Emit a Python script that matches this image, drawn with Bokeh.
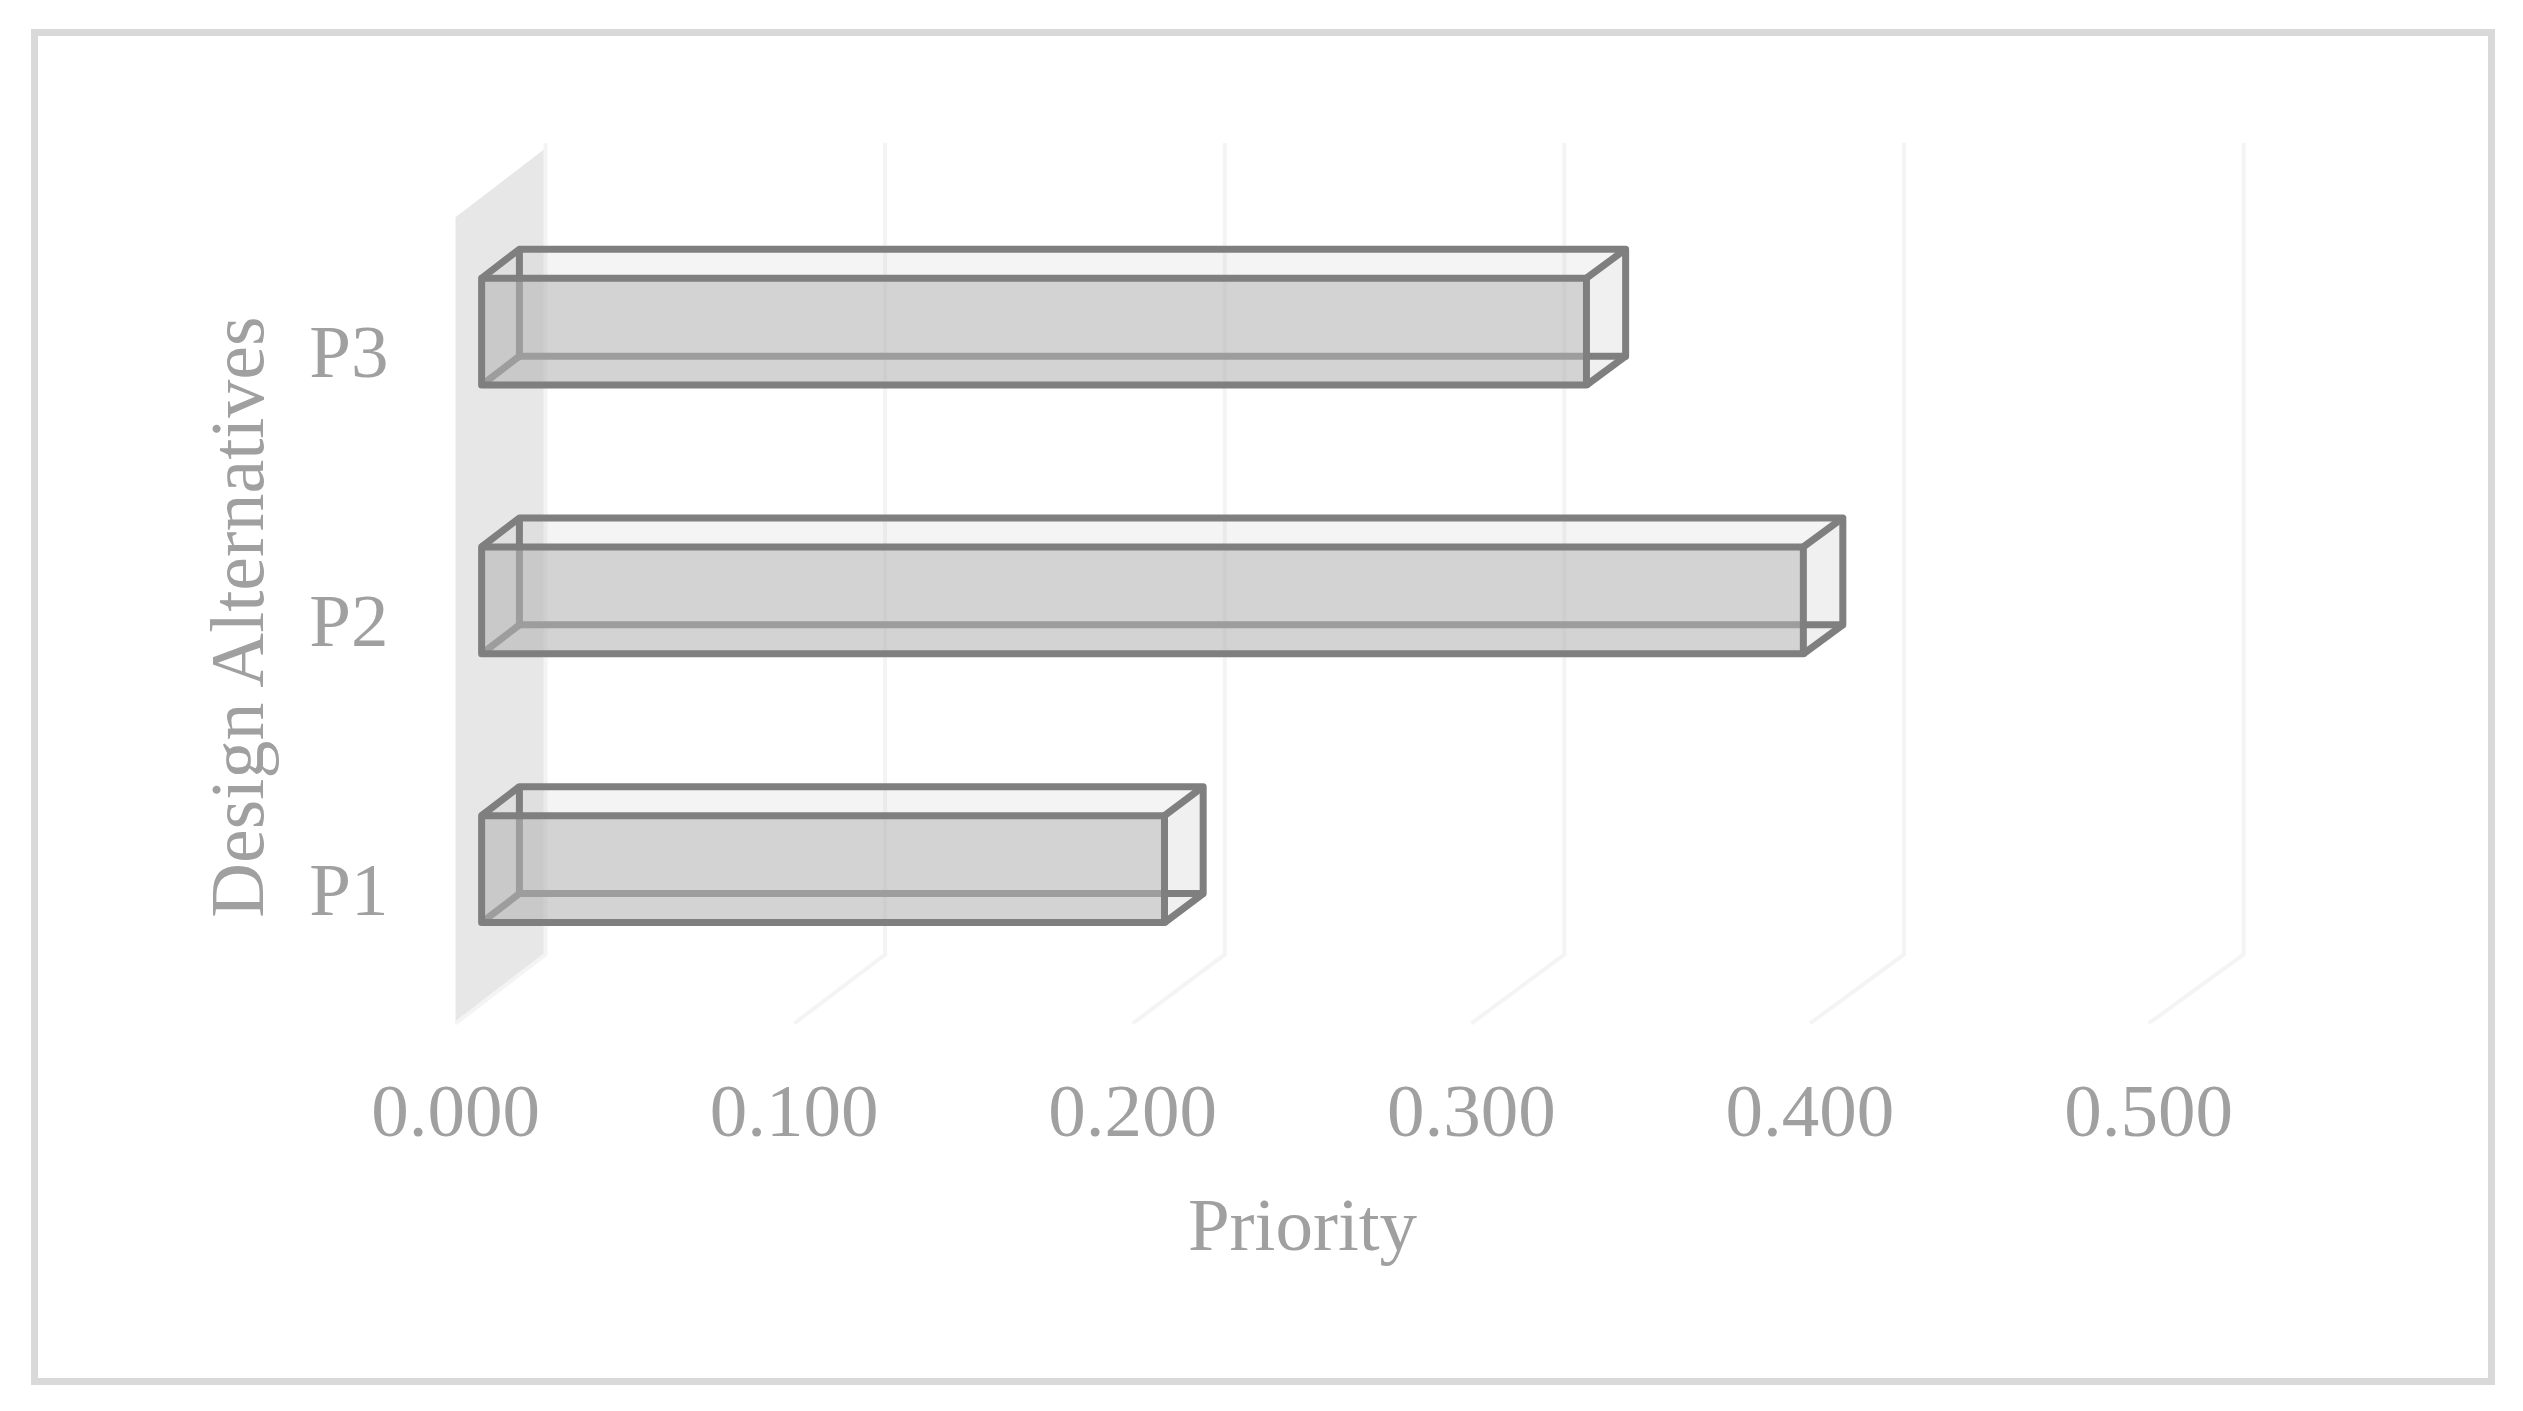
from bokeh.plotting import figure
from bokeh.models import FixedTicker, NumeralTickFormatter, Range1d
from bokeh.embed import file_html
from bokeh.resources import INLINE

# ---- data ----
categories = ["P1", "P2", "P3"]
positions = [0.5, 1.5, 2.5]
priority = [0.2015, 0.3900, 0.3260]
x_ticks = [0.0, 0.1, 0.2, 0.3, 0.4, 0.5]
x_title = "Priority"
y_title = "Design Alternatives"

# ---- oblique projection of the 3-D chart (depth z runs from 0 to 1) ----
DX = 0.02658
DY = 0.2568
PERSP = 0.003
Z0, Z1 = 0.29, 0.71
HALF = 0.199
GRID_TOP = 3.02
PROJ = lambda v, c, z: (v * (1 + PERSP * z) + z * DX, c + z * DY)


def poly(corners):
    pts = [PROJ(*k) for k in corners]
    return [a for a, _ in pts], [b for _, b in pts]


FONT = "Liberation Serif"
TEXT = "#a0a0a0"
SIZE = "75px"

p = figure(width=2450, height=1342, output_backend="svg", toolbar_location=None,
           x_range=Range1d(-0.02983, 0.5301), y_range=Range1d(-0.2494, 3.2895),
           min_border_left=316, min_border_right=238, min_border_top=103, min_border_bottom=288,
           background_fill_color="white", border_fill_color="white", outline_line_color=None,
           margin=(36, 0, 0, 38),
           styles={"outline": "7px solid #d9d9d9"})
p.grid.visible = False

# side wall
xs, ys = poly([(0, 0, 0), (0, 0, 1), (0, 3, 1), (0, 3, 0)])
p.patch(xs, ys, fill_color="#e7e7e7", line_color=None)

# gridlines on back wall and floor
for t in x_ticks:
    xs, ys = poly([(t, 0, 0), (t, 0, 1), (t, GRID_TOP, 1)])
    p.line(xs, ys, line_color="#f4f4f4", line_width=4, line_join="miter")

# bars
EDGE = "#7f7f7f"
FILL = "#b3b3b3"
LW = 7
for c, v in zip(positions, priority):
    lo, hi = c - HALF, c + HALF
    # top face
    xs, ys = poly([(0, hi, Z0), (0, hi, Z1), (v, hi, Z1), (v, hi, Z0)])
    p.patch(xs, ys, fill_color=FILL, fill_alpha=0.15, line_color=None)
    # end face
    xs, ys = poly([(v, lo, Z0), (v, lo, Z1), (v, hi, Z1), (v, hi, Z0)])
    p.patch(xs, ys, fill_color=FILL, fill_alpha=0.2, line_color=None)
    # back and connecting edges
    xs, ys = poly([(0, hi, Z0), (0, hi, Z1), (v, hi, Z1), (v, lo, Z1), (0, lo, Z1), (0, hi, Z1)])
    p.line(xs, ys, line_color=EDGE, line_width=LW, line_join="round")
    xs, ys = poly([(v, hi, Z0), (v, hi, Z1)])
    p.line(xs, ys, line_color=EDGE, line_width=LW)
    xs, ys = poly([(v, lo, Z0), (v, lo, Z1)])
    p.line(xs, ys, line_color=EDGE, line_width=LW)
    xs, ys = poly([(0, lo, Z0), (0, lo, Z1)])
    p.line(xs, ys, line_color=EDGE, line_width=LW)
    # front face (translucent, over the back edges)
    xs, ys = poly([(0, lo, Z0), (v, lo, Z0), (v, hi, Z0), (0, hi, Z0)])
    p.patch(xs, ys, fill_color=FILL, fill_alpha=0.58, line_color=None)
    p.line(xs + xs[:2], ys + ys[:2], line_color=EDGE, line_width=LW, line_join="round")

# axes
xa = p.xaxis[0]
xa.ticker = FixedTicker(ticks=x_ticks)
xa.formatter = NumeralTickFormatter(format="0.000")
xa.axis_label = x_title
xa.major_label_standoff = -10
xa.axis_label_standoff = 44

ya = p.yaxis[0]
ya.ticker = FixedTicker(ticks=positions)
ya.major_label_overrides = dict(zip(positions, categories))
ya.axis_label = y_title
ya.major_label_standoff = -40
ya.axis_label_standoff = 27

for a in (xa, ya):
    a.axis_line_color = None
    a.major_tick_line_color = None
    a.minor_tick_line_color = None
    a.major_label_text_font = FONT
    a.major_label_text_font_size = SIZE
    a.major_label_text_color = TEXT
    a.axis_label_text_font = FONT
    a.axis_label_text_font_size = SIZE
    a.axis_label_text_font_style = "normal"
    a.axis_label_text_color = TEXT
ya.axis_label_text_font_size = "76px"

open("out.html", "w").write(file_html(p, INLINE))
